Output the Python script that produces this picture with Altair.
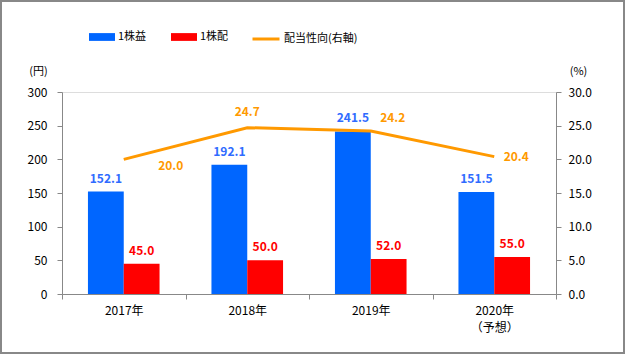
import altair as alt
import pandas as pd

# ---- data ----
years = ["2017年", "2018年", "2019年", "2020年"]
eps = [152.1, 192.1, 241.5, 151.5]          # 1株益 (円)
dps = [45.0, 50.0, 52.0, 55.0]              # 1株配 (円)
payout = [20.0, 24.7, 24.2, 20.4]           # 配当性向 (%)
series_names = ["1株益", "1株配"]
line_name = "配当性向(右軸)"
left_ticks = [0, 50, 100, 150, 200, 250, 300]
right_ticks = [0, 5, 10, 15, 20, 25, 30]

bars_df = pd.DataFrame({
    "year": years * 2,
    "series": [series_names[0]] * len(years) + [series_names[1]] * len(years),
    "value": eps + dps,
})
line_df = pd.DataFrame({"year": years, "payout": payout, "name": [line_name] * len(years)})

FONT = "Noto Sans CJK JP"
BLUE = "#0066FF"
BLUE_TXT = "#2F6BFF"
RED = "#FF0000"
ORANGE = "#FF9900"
GRAY = "#888888"

x_enc = alt.X(
    "year:N", sort=years,
    scale=alt.Scale(paddingInner=0, paddingOuter=0),
    axis=alt.Axis(
        title=None, labelAngle=0, tickBand="extent", tickSize=5,
        domainColor=GRAY, tickColor=GRAY, labelColor="black",
        labelFontSize=12, labelFont=FONT, labelPadding=6, labelLineHeight=17,
        labelExpr="datum.value == '2020年' ? ['2020年', '（予想）'] : datum.label",
    ),
)

y_left = alt.Y(
    "value:Q",
    scale=alt.Scale(domain=[0, 300]),
    axis=alt.Axis(
        values=left_ticks, grid=False, format="d", labelOverlap=False,
        title="(円)", titleAngle=0, titleX=-24, titleY=-21, titleAlign="center",
        titleBaseline="middle", titleFontWeight="normal", titleFontSize=11, titleFont=FONT,
        domainColor=GRAY, tickColor=GRAY, tickSize=5, labelPadding=10,
        labelFontSize=12, labelFont=FONT, labelColor="black",
    ),
)

xoff = alt.XOffset("series:N", sort=series_names,
                   scale=alt.Scale(paddingInner=0, paddingOuter=0.725))

bars = alt.Chart(bars_df).mark_bar().encode(
    x=x_enc, xOffset=xoff, y=y_left,
    color=alt.Color(
        "series:N",
        scale=alt.Scale(domain=series_names, range=[BLUE, RED]),
        legend=alt.Legend(
            title=None, orient="none", legendX=27, legendY=-68, direction="horizontal",
            symbolType="M-1,-0.3H1V0.3H-1Z", symbolSize=676, symbolStrokeWidth=0,
            labelFont=FONT, labelFontSize=11, labelColor="black", labelOffset=3,
            columnPadding=24,
        ),
    ),
)

bar_texts = []
for name, col in zip(series_names, [BLUE_TXT, RED]):
    bar_texts.append(
        alt.Chart(bars_df).transform_filter(alt.datum.series == name).mark_text(
            dy=-13, fontWeight="bold", fontSize=12, font=FONT, color=col
        ).encode(x=x_enc, xOffset=xoff, y=y_left, text=alt.Text("value:Q", format=".1f"))
    )

left = alt.layer(bars, *bar_texts)

y_right = alt.Y(
    "payout:Q",
    scale=alt.Scale(domain=[0, 30]),
    axis=alt.Axis(
        orient="right", values=right_ticks, grid=False, format=".1f", labelOverlap=False,
        title="(%)", titleAngle=0, titleX=22, titleY=-21, titleAlign="center",
        titleBaseline="middle", titleFontWeight="normal", titleFontSize=11, titleFont=FONT,
        domainColor=GRAY, tickColor=GRAY, tickSize=5, labelPadding=7,
        labelFontSize=12, labelFont=FONT, labelColor="black",
    ),
)

line = alt.Chart(line_df).mark_line(strokeWidth=3).encode(
    x=x_enc, y=y_right,
    stroke=alt.Stroke(
        "name:N",
        scale=alt.Scale(domain=[line_name], range=[ORANGE]),
        legend=alt.Legend(
            title=None, orient="none", legendX=189, legendY=-68,
            symbolType="stroke", symbolSize=729, symbolStrokeWidth=3,
            labelFont=FONT, labelFontSize=11, labelColor="black", labelOffset=3,
        ),
    ),
)

# label offsets (styling) for each year's payout label
label_offsets = {"2017年": (47, 7), "2018年": (0, -16), "2019年": (22, -13), "2020年": (22, 0)}
line_texts = []
for yr in years:
    dx, dy = label_offsets[yr]
    line_texts.append(
        alt.Chart(line_df).transform_filter(alt.datum.year == yr).mark_text(
            dx=dx, dy=dy, fontWeight="bold", fontSize=12, font=FONT, color=ORANGE
        ).encode(x=x_enc, y=y_right, text=alt.Text("payout:Q", format=".1f"))
    )

right = alt.layer(line, *line_texts)

border = alt.Chart(pd.DataFrame({"a": [0]})).mark_rect(
    fillOpacity=0, stroke=GRAY, strokeWidth=2, clip=False
).encode(x=alt.value(-61), x2=alt.value(562), y=alt.value(-91), y2=alt.value(261))

chart = alt.layer(left, right, border).resolve_scale(y="independent").properties(
    width=494, height=202,
    padding={"left": 62, "top": 92, "right": 69, "bottom": 60},
    autosize=alt.AutoSizeParams(type="none"),
).configure_view(stroke="transparent").configure(background="white")

chart.save("out.html", embed_options={"renderer": "svg", "actions": False})
